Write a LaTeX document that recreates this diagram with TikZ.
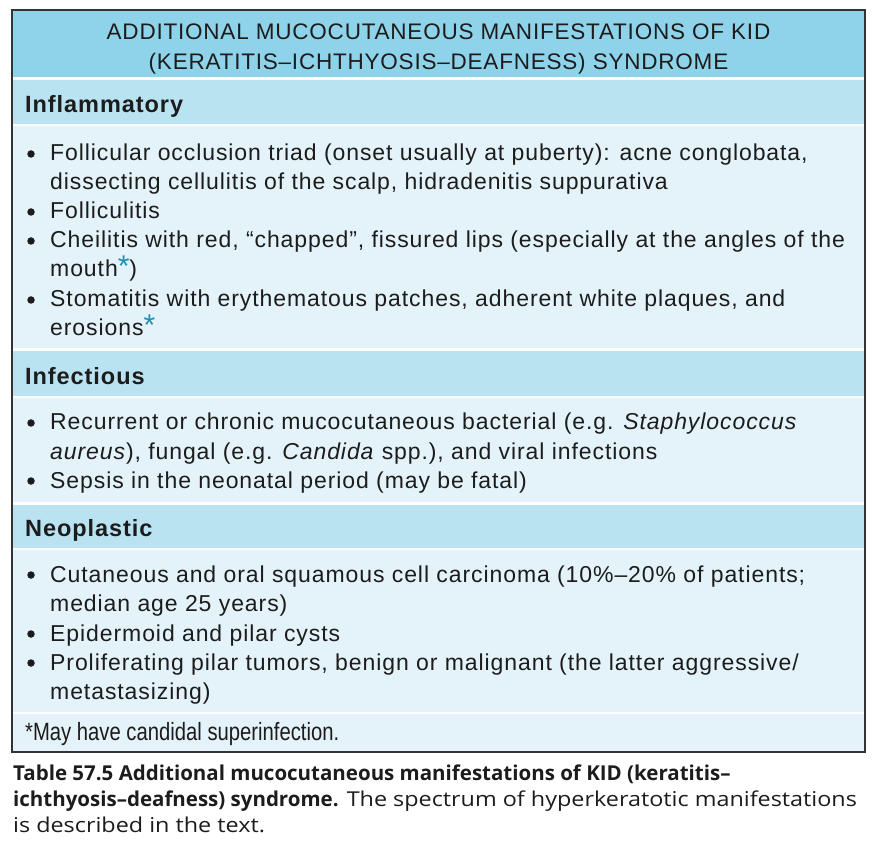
\documentclass[tikz,border=0pt]{standalone}
\usepackage{fontspec}
\setmainfont[LetterSpace=4]{Liberation Sans}
\newfontfamily\capfont[Ligatures=TeX, UprightFeatures={FakeStretch=1.14}]{Open Sans}
\newfontfamily\notefont[FakeStretch=0.81]{Liberation Sans}
\usetikzlibrary{calc}

\definecolor{titleblue}{HTML}{8ED3EA}
\definecolor{headblue}{HTML}{B9E3F1}
\definecolor{bodyblue}{HTML}{E4F3FA}
\definecolor{stargreen}{HTML}{1E8FB5}
\definecolor{inkgray}{HTML}{1C1C1C}

\tikzset{
  txt/.style={anchor=base west, inner sep=0pt, text=inkgray, font=\fontsize{23}{26}\selectfont},
  ttl/.style={anchor=base, inner sep=0pt, text=inkgray, font=\fontsize{22.5}{26}\selectfont\addfontfeatures{LetterSpace=3.5}},
  sect/.style={txt, font=\fontsize{23.5}{26}\selectfont\bfseries},
  bul/.style={circle, fill=inkgray, inner sep=0pt, minimum size=7.5pt},
  note/.style={anchor=base west, inner sep=0pt, text=inkgray, font=\notefont\fontsize{25}{26}\selectfont},
  captxt/.style={anchor=base west, inner sep=0pt, text=inkgray, font=\capfont\fontsize{20.5}{26}\selectfont}
}
\newcommand{\kidstar}{\textcolor{stargreen}{\fontsize{30}{26}\selectfont *}}

\begin{document}
\begin{tikzpicture}[x=1pt, y=-1pt]
\useasboundingbox (0, 0) rectangle (881, 866);

% bands of the table
\fill[titleblue] (12, 10) rectangle (865, 77);
\fill[headblue] (12, 80) rectangle (865, 124);
\fill[bodyblue] (12, 126) rectangle (865, 348);
\fill[headblue] (12, 351) rectangle (865, 396);
\fill[bodyblue] (12, 398) rectangle (865, 502);
\fill[headblue] (12, 505) rectangle (865, 548);
\fill[bodyblue] (12, 550) rectangle (865, 712);
\fill[bodyblue] (12, 714) rectangle (865, 752);
\draw[line width=1.3pt, draw=black!80] (12, 10) rectangle (865, 752);

\node[ttl] (title1) at (438.5, 40) {ADDITIONAL MUCOCUTANEOUS MANIFESTATIONS OF KID};
\node[ttl] (title2) at (438.5, 70) {(KERATITIS--ICHTHYOSIS--DEAFNESS) SYNDROME};

\node[sect] (infl) at (25, 113) {Inflammatory};
\node[bul] (b1) at (31, 154) {};
\node[txt] (l1) at (50, 161) {Follicular occlusion triad (onset usually at puberty): acne conglobata,};
\node[txt] (l2) at (50, 190) {dissecting cellulitis of the scalp, hidradenitis suppurativa};
\node[bul] (b2) at (31, 212) {};
\node[txt] (l3) at (50, 219) {Folliculitis};
\node[bul] (b3) at (31, 241) {};
\node[txt] (l4) at (50, 248) {Cheilitis with red, ``chapped'', fissured lips (especially at the angles of the};
\node[txt] (l5) at (50, 277) {mouth\kidstar)};
\node[bul] (b4) at (31, 300) {};
\node[txt] (l6) at (50, 307) {Stomatitis with erythematous patches, adherent white plaques, and};
\node[txt] (l7) at (50, 336) {erosions\kidstar};

\node[sect] (infe) at (25, 385) {Infectious};
\node[bul] (b5) at (31, 423) {};
\node[txt] (l8) at (50, 430) {Recurrent or chronic mucocutaneous bacterial (e.g. \textit{Staphylococcus}};
\node[txt] (l9) at (50, 459) {\textit{aureus}), fungal (e.g. \textit{Candida} spp.), and viral infections};
\node[bul] (b6) at (31, 481) {};
\node[txt] (l10) at (50, 488) {Sepsis in the neonatal period (may be fatal)};

\node[sect] (neo) at (25, 536) {Neoplastic};
\node[bul] (b7) at (31, 575) {};
\node[txt] (l11) at (50, 582) {Cutaneous and oral squamous cell carcinoma (10\%--20\% of patients;};
\node[txt] (l12) at (50, 611) {median age 25 years)};
\node[bul] (b8) at (31, 634) {};
\node[txt] (l13) at (50, 641) {Epidermoid and pilar cysts};
\node[bul] (b9) at (31, 663) {};
\node[txt] (l14) at (50, 670) {Proliferating pilar tumors, benign or malignant (the latter aggressive/};
\node[txt] (l15) at (50, 699) {metastasizing)};

\node[note] (foot) at (25, 740) {*May have candidal superinfection.};

% caption below the table
\node[captxt] (c1) at (13, 780) {\textbf{Table 57.5 Additional mucocutaneous manifestations of KID (keratitis--}};
\node[captxt] (c2) at (13, 806) {\textbf{ichthyosis--deafness) syndrome.} The spectrum of hyperkeratotic manifestations};
\node[captxt] (c3) at (13, 832) {is described in the text.};
\end{tikzpicture}
\end{document}
